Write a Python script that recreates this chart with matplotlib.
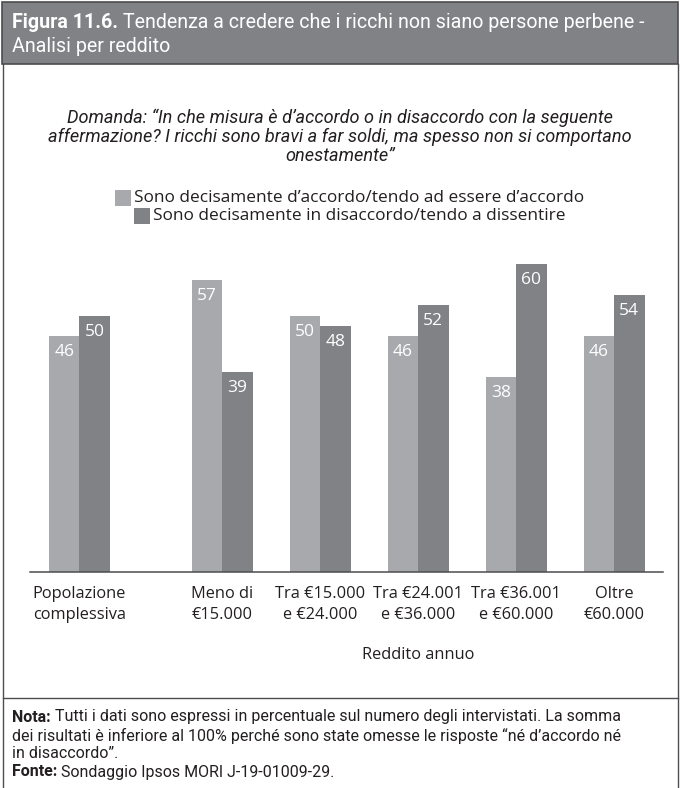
import matplotlib
matplotlib.use("Agg")
import matplotlib.pyplot as plt
from matplotlib.patches import Rectangle
from matplotlib.lines import Line2D
import numpy as np

# ---------------- data ----------------
categories = ["Popolazione\ncomplessiva", "Meno di\n€15.000", "Tra €15.000\ne €24.000",
              "Tra €24.001\ne €36.000", "Tra €36.001\ne €60.000", "Oltre\n€60.000"]
agree = [46, 57, 50, 46, 38, 46]
disagree = [50, 39, 48, 52, 60, 54]
series_labels = ["Sono decisamente d\u2019accordo/tendo ad essere d\u2019accordo",
                 "Sono decisamente in disaccordo/tendo a dissentire"]
title_bold = "Figura 11.6."
title_rest_1 = " Tendenza a credere che i ricchi non siano persone perbene -"
title_line_2 = "Analisi per reddito"
question_lines = ["Domanda: \u201cIn che misura è d\u2019accordo o in disaccordo con la seguente",
                  "affermazione? I ricchi sono bravi a far soldi, ma spesso non si comportano",
                  "onestamente\u201d"]
xlabel = "Reddito annuo"
note_lines = [("Nota:", " Tutti i dati sono espressi in percentuale sul numero degli intervistati. La somma"),
              ("", "dei risultati è inferiore al 100% perché sono state omesse le risposte \u201cné d\u2019accordo né"),
              ("", "in disaccordo\u201d."),
              ("Fonte:", " Sondaggio Ipsos MORI J-19-01009-29.")]

# ---------------- style ----------------
LIGHT = "#a7a9ac"
DARK = "#808285"
HEADER = "#808285"
BORDER = "#4d4d4f"
TXT = "#231f20"
BODY_FONT = ["Open Sans", "DejaVu Sans"]
COND_FONT = ["Roboto", "DejaVu Sans"]

W, H = 680, 788
fig = plt.figure(figsize=(W / 100, H / 100), dpi=100)
fig.patch.set_facecolor("white")
renderer = fig.canvas.get_renderer()


def fx(x):
    return x / W


def fy(y):
    return 1 - y / H


def fit_text(x, y, s, target_w, size0, **kw):
    t = fig.text(fx(x), fy(y), s, fontsize=size0, **kw)
    w = t.get_window_extent(renderer).width
    if w > 0:
        t.set_fontsize(size0 * target_w / w)
    return t


# ---------------- frame / header ----------------
fig.patches.append(Rectangle((fx(2), fy(64)), fx(676), 62 / H, transform=fig.transFigure,
                             facecolor=HEADER, edgecolor=BORDER, linewidth=1.2, zorder=0))
for xx in (2.5, 677.5):
    fig.lines.append(Line2D([fx(xx), fx(xx)], [fy(64), fy(788)], transform=fig.transFigure,
                            color=BORDER, linewidth=1.0))
fig.lines.append(Line2D([fx(2.5), fx(677.5)], [fy(698), fy(698)], transform=fig.transFigure,
                        color=BORDER, linewidth=1.0))

# title
tb = fig.text(fx(12), fy(22), title_bold, fontsize=13, fontweight="bold", color="white",
              family=COND_FONT, va="center", ha="left")
tr = fig.text(0, fy(22), title_rest_1, fontsize=13, color="white", family=COND_FONT,
              va="center", ha="left")
wb = tb.get_window_extent(renderer).width
wr = tr.get_window_extent(renderer).width
scale = (645 - 12) / (wb + wr)
tb.set_fontsize(13 * scale)
tr.set_fontsize(13 * scale)
wb = tb.get_window_extent(renderer).width
tr.set_x(fx(12 + wb))
fig.text(fx(12), fy(47), title_line_2, fontsize=13 * scale, color="white", family=COND_FONT,
         va="center", ha="left")

# question
q_size = None
for i, (line, yy) in enumerate(zip(question_lines, [118, 137, 156])):
    if i == 0:
        t = fit_text(340, yy, line, 545, 11, ha="center", va="center",
                     style="italic", family=COND_FONT, color=TXT)
        q_size = t.get_fontsize()
    else:
        fig.text(fx(340), fy(yy), line, fontsize=q_size, ha="center", va="center",
                 style="italic", family=COND_FONT, color=TXT)

# ---------------- axes ----------------
ax_left, ax_right, ax_bottom = 30, 663, 572
ymax = 70
px_per_unit = 5.13
ax_top = ax_bottom - ymax * px_per_unit
ax = fig.add_axes([fx(ax_left), fy(ax_bottom), (ax_right - ax_left) / W, (ax_bottom - ax_top) / H])

pos = np.array([0.0, 1.455, 2.455, 3.455, 4.455, 5.455])
bw = 0.311
bars1 = ax.bar(pos - bw / 2, agree, bw, color=LIGHT, label=series_labels[0], zorder=2)
bars2 = ax.bar(pos + bw / 2, disagree, bw, color=DARK, label=series_labels[1], zorder=2)
ax.set_xlim(-0.505, 5.954)
ax.set_ylim(0, ymax)

for bars, vals in ((bars1, agree), (bars2, disagree)):
    for b, v in zip(bars, vals):
        ax.annotate(str(v), (b.get_x() + b.get_width() / 2, v), xytext=(0, -16),
                    textcoords="offset pixels", ha="center", va="center", color="white",
                    fontsize=12.5, family=BODY_FONT)

for s in ("top", "right", "left"):
    ax.spines[s].set_visible(False)
ax.spines["bottom"].set_color("#4d4d4f")
ax.spines["bottom"].set_linewidth(1.1)
ax.set_yticks([])
ax.set_xticks(pos)
ax.set_xticklabels(categories, fontsize=11.8, family=BODY_FONT, color=TXT,
                   linespacing=1.45)
ax.tick_params(axis="x", length=0, pad=10)
ax.patch.set_alpha(0)

fig.text(fx(418), fy(655), xlabel, fontsize=11.8, family=BODY_FONT, color=TXT,
         ha="center", va="center")

# ---------------- legend ----------------
leg_items = [(115, 198, 134, LIGHT, 583), (134, 216, 153, DARK, 558)]
leg_size = None
for (sx, sy, tx, col, tend), lab in zip(leg_items, series_labels):
    fig.patches.append(Rectangle((fx(sx), fy(sy + 8)), 16 / W, 16 / H, transform=fig.transFigure,
                                 facecolor=col, edgecolor="none"))
    if leg_size is None:
        t = fit_text(tx, sy, lab, tend - tx, 11, ha="left", va="center", family=BODY_FONT,
                     color=TXT)
        leg_size = t.get_fontsize()
    else:
        fig.text(fx(tx), fy(sy), lab, fontsize=leg_size, ha="left", va="center",
                 family=BODY_FONT, color=TXT)

# ---------------- notes ----------------
NOTE_FONT = COND_FONT
note_size = None
for (b, r), yy in zip(note_lines, [717, 736, 754, 772]):
    x0 = 12
    if note_size is None:
        tb_ = fig.text(fx(x0), fy(yy), b, fontsize=10, fontweight="bold", family=NOTE_FONT,
                       color=TXT, va="center", ha="left")
        tr_ = fig.text(0, fy(yy), r, fontsize=10, family=NOTE_FONT, color=TXT,
                       va="center", ha="left")
        w1 = tb_.get_window_extent(renderer).width
        w2 = tr_.get_window_extent(renderer).width
        note_size = 10 * (620 - 12) / (w1 + w2)
        tb_.set_fontsize(note_size)
        tr_.set_fontsize(note_size)
        w1 = tb_.get_window_extent(renderer).width
        tr_.set_x(fx(x0 + w1))
    else:
        w1 = 0
        if b:
            tb_ = fig.text(fx(x0), fy(yy), b, fontsize=note_size, fontweight="bold",
                           family=NOTE_FONT, color=TXT, va="center", ha="left")
            w1 = tb_.get_window_extent(renderer).width
        fig.text(fx(x0 + w1), fy(yy), r, fontsize=note_size, family=NOTE_FONT,
                 color=TXT, va="center", ha="left")

fig.savefig("out.png", dpi=100)
